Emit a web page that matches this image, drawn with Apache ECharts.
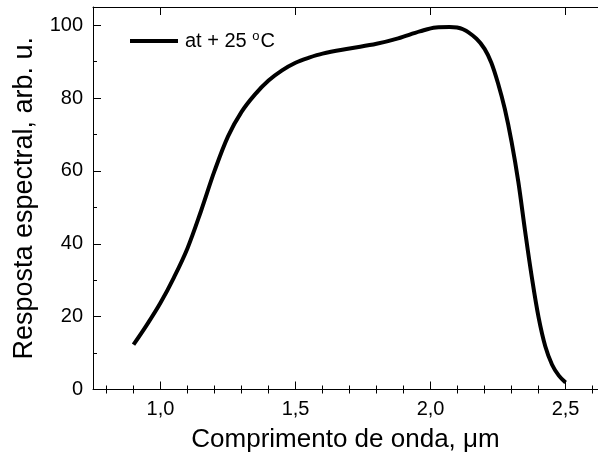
<!DOCTYPE html>
<html>
<head>
<meta charset="utf-8">
<script src="https://cdn.jsdelivr.net/npm/echarts@6/dist/echarts.min.js"></script>
<style>
html,body{margin:0;padding:0;background:#fff;}
#chart{width:598px;height:459px;}
</style>
</head>
<body>
<div id="chart"></div>
<script>
// Data
var WAVELENGTH = [0.90,0.95,1.00,1.05,1.10,1.15,1.20,1.25,1.30,1.35,1.40,1.45,1.50,1.55,1.60,1.70,1.80,1.88,1.96,2.02,2.07,2.12,2.17,2.20,2.225,2.25,2.275,2.30,2.325,2.35,2.375,2.40,2.425,2.45,2.475,2.50];
var RESPONSE   = [12.3,17.8,23.8,30.8,38.8,49.0,60.0,69.5,76.2,81.0,84.8,87.6,89.7,91.1,92.2,93.6,94.9,96.4,98.3,99.4,99.5,98.9,96.3,93.5,89.7,84.0,77.0,68.0,57.0,43.5,30.8,19.8,11.8,6.8,3.8,1.9];
var X_MAJOR = [1.0, 1.5, 2.0, 2.5];
var X_MINOR = [0.8, 0.9, 1.1, 1.2, 1.3, 1.4, 1.6, 1.7, 1.8, 1.9, 2.1, 2.2, 2.3, 2.4, 2.6];
var Y_MAJOR = [0, 20, 40, 60, 80, 100];
var Y_MINOR = [10, 30, 50, 70, 90];
var SERIES_NAME = 'at + 25 °C';
var X_TITLE = 'Comprimento de onda, μm';
var Y_TITLE = 'Resposta espectral, arb. u.';

var FONT = 'Liberation Sans, Arial, sans-serif';
var X_MIN = 0.75, X_MAX = 2.62, Y_MIN = 0, Y_MAX = 105;

function xAx(opts) {
  var base = {
    type: 'value', gridIndex: 0, min: X_MIN, max: X_MAX,
    splitLine: {show: false},
    axisLine: {show: false, lineStyle: {color: '#000', width: 1}},
    axisTick: {show: false},
    axisLabel: {show: false}
  };
  return Object.assign(base, opts);
}
function yAx(opts) {
  var base = {
    type: 'value', gridIndex: 0, min: Y_MIN, max: Y_MAX,
    splitLine: {show: false},
    axisLine: {show: false, lineStyle: {color: '#000', width: 1}},
    axisTick: {show: false},
    axisLabel: {show: false}
  };
  return Object.assign(base, opts);
}

var chart = echarts.init(document.getElementById('chart'), null, {renderer: 'canvas'});
chart.setOption({
  backgroundColor: '#fff',
  animation: false,
  grid: {left: 93, right: -1, top: 7, bottom: 69.5, containLabel: false},
  legend: {
    left: 130, top: 30, padding: 0,
    itemWidth: 48, itemHeight: 4, itemGap: 10,
    data: [{name: SERIES_NAME, icon: 'rect'}],
    itemStyle: {color: '#000'},
    formatter: function () { return 'at + 25 {sup|o}C'; },
    textStyle: {
      fontFamily: FONT, fontSize: 20, color: '#000', padding: [0, 0, 0, 2],
      rich: {sup: {fontFamily: FONT, fontSize: 13, color: '#000', verticalAlign: 'top', padding: [0, 1, 9, 0]}}
    },
    selectedMode: false
  },
  xAxis: [
    xAx({
      position: 'bottom',
      name: X_TITLE, nameLocation: 'middle', nameGap: 37,
      nameTextStyle: {fontFamily: FONT, fontSize: 26, color: '#000'},
      axisLine: {show: true, onZero: false, lineStyle: {color: '#000', width: 1}},
      axisTick: {show: true, inside: true, length: 8, customValues: X_MAJOR, lineStyle: {color: '#000'}},
      axisLabel: {show: true, customValues: X_MAJOR, margin: 10, fontFamily: FONT, fontSize: 20, color: '#000',
        formatter: function (v) { return v.toFixed(1).replace('.', ','); }}
    }),
    xAx({position: 'bottom', axisTick: {show: true, inside: true, length: 4, customValues: X_MINOR, lineStyle: {color: '#000'}}}),
    xAx({position: 'top', axisLine: {show: true, onZero: false, lineStyle: {color: '#000', width: 1}},
      axisTick: {show: true, inside: true, length: 8, customValues: X_MAJOR, lineStyle: {color: '#000'}}}),
    xAx({position: 'top', axisTick: {show: true, inside: true, length: 4, customValues: X_MINOR, lineStyle: {color: '#000'}}})
  ],
  yAxis: [
    yAx({
      position: 'left',
      name: Y_TITLE, nameLocation: 'middle', nameGap: 55, nameRotate: 90,
      nameTextStyle: {fontFamily: FONT, fontSize: 27, color: '#000'},
      axisLine: {show: true, onZero: false, lineStyle: {color: '#000', width: 1}},
      axisTick: {show: true, inside: true, length: 8, customValues: Y_MAJOR, lineStyle: {color: '#000'}},
      axisLabel: {show: true, customValues: Y_MAJOR, margin: 10, fontFamily: FONT, fontSize: 20, color: '#000'}
    }),
    yAx({position: 'left', axisTick: {show: true, inside: true, length: 4, customValues: Y_MINOR, lineStyle: {color: '#000'}}})
  ],
  series: [{
    name: SERIES_NAME,
    type: 'line',
    xAxisIndex: 0, yAxisIndex: 0,
    data: WAVELENGTH.map(function (x, i) { return [x, RESPONSE[i]]; }),
    smooth: 0.35,
    showSymbol: false, symbol: 'none',
    lineStyle: {color: '#000', width: 4},
    itemStyle: {color: '#000'},
    silent: true
  }]
});
</script>
</body>
</html>
